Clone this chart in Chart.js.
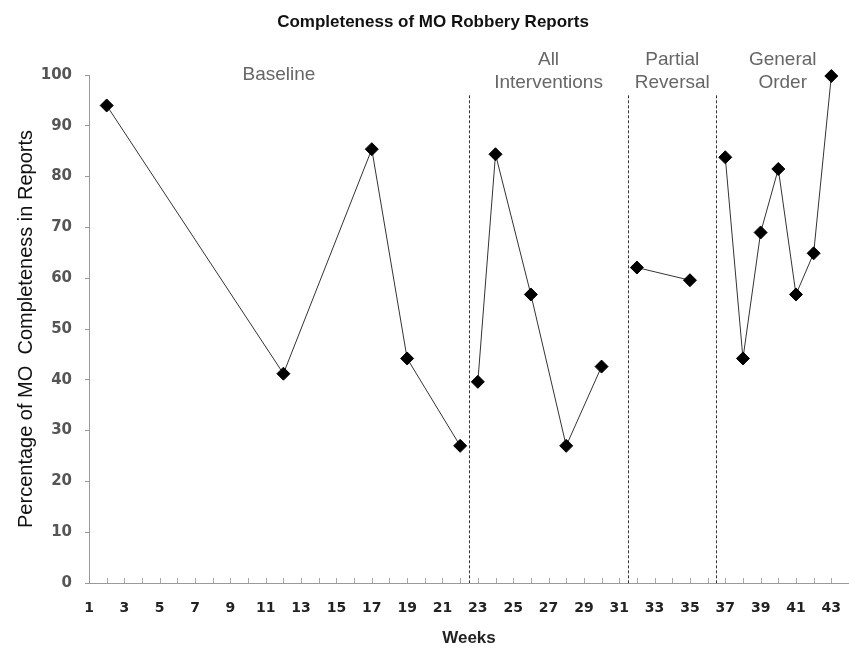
<!DOCTYPE html>
<html>
<head>
<meta charset="utf-8">
<script src="https://cdn.jsdelivr.net/npm/chart.js@4/dist/chart.umd.min.js"></script>
<style>
html,body{margin:0;padding:0;background:#fff;}
#wrap{width:849px;height:656px;position:relative;}
</style>
</head>
<body>
<div id="wrap"><canvas id="c" width="849" height="656"></canvas></div>
<script>
// ---- data ----
const chartTitle = "Completeness of MO Robbery Reports";
const xTitle = "Weeks";
const yTitle = "Percentage of MO  Completeness in Reports";
const weeks  = [2, 12, 17, 19, 22, 23, 24, 26, 28, 30, 32, 35, 37, 38, 39, 40, 41, 42, 43];
const values = [94, 41.2, 85.4, 44.2, 27, 39.6, 84.4, 56.8, 27, 42.6, 62.1, 59.6, 83.8, 44.2, 69, 81.5, 56.8, 64.9, 99.8];
const phaseOf = [0, 0, 0, 0, 0, 1, 1, 1, 1, 1, 2, 2, 3, 3, 3, 3, 3, 3, 3];
const phaseNames = [["Baseline"], ["All", "Interventions"], ["Partial", "Reversal"], ["General", "Order"]];
const phaseChanges = [22.5, 31.5, 36.5];
const xTickLabels = [1,3,5,7,9,11,13,15,17,19,21,23,25,27,29,31,33,35,37,39,41,43];
const yTickLabels = [0,10,20,30,40,50,60,70,80,90,100];

const X_MIN = 1, X_MAX = 44;

const datasets = phaseNames.map((_, p) => ({
  data: weeks.map((w, i) => phaseOf[i] === p ? {x: w, y: values[i]} : null).filter(d => d),
  borderColor: '#333',
  borderWidth: 1,
  pointStyle: 'rectRot',
  pointRadius: 6.5,
  pointHoverRadius: 6.5,
  pointBackgroundColor: '#000',
  pointBorderColor: '#000',
  pointBorderWidth: 1,
  tension: 0,
  fill: false,
  clip: false
}));

const decor = {
  id: 'decor',
  beforeDatasetsDraw(chart) {
    const ctx = chart.ctx, xs = chart.scales.x, ys = chart.scales.y, ca = chart.chartArea;
    ctx.save();
    // inside ticks on x axis
    ctx.strokeStyle = '#aaa';
    ctx.lineWidth = 1;
    for (let w = X_MIN + 1; w <= X_MAX - 1; w++) {
      const px = Math.round(xs.getPixelForValue(w)) + 0.5;
      ctx.beginPath();
      ctx.moveTo(px, ca.bottom);
      ctx.lineTo(px, ca.bottom - 5);
      ctx.stroke();
    }
    // phase change lines
    ctx.strokeStyle = '#333';
    ctx.setLineDash([3, 2]);
    phaseChanges.forEach(w => {
      const px = Math.round(xs.getPixelForValue(w)) + 0.5;
      ctx.beginPath();
      ctx.moveTo(px, ys.getPixelForValue(96));
      ctx.lineTo(px, ca.bottom);
      ctx.stroke();
    });
    ctx.setLineDash([]);
    // phase labels
    const bounds = [X_MIN, ...phaseChanges, X_MAX];
    ctx.fillStyle = '#666';
    ctx.font = '19px "Liberation Sans", Arial, sans-serif';
    ctx.textAlign = 'center';
    ctx.textBaseline = 'middle';
    phaseNames.forEach((lines, p) => {
      const cx = xs.getPixelForValue((bounds[p] + bounds[p + 1]) / 2);
      if (lines.length === 1) {
        ctx.fillText(lines[0], cx, 75);
      } else {
        ctx.fillText(lines[0], cx, 60);
        ctx.fillText(lines[1], cx, 83);
      }
    });
    // title
    ctx.fillStyle = '#111';
    ctx.font = 'bold 17px "Liberation Sans", Arial, sans-serif';
    ctx.fillText(chartTitle, 433, 22);
    ctx.restore();
  }
};

new Chart(document.getElementById('c'), {
  type: 'line',
  data: { datasets },
  plugins: [decor],
  options: {
    responsive: false,
    animation: false,
    events: [],
    layout: { autoPadding: false, padding: { top: 75, right: 0, bottom: 0, left: 0 } },
    plugins: { legend: { display: false }, title: { display: false }, tooltip: { enabled: false } },
    scales: {
      x: {
        type: 'linear',
        min: X_MIN, max: X_MAX,
        afterFit(s) { s.height = 73; s.paddingLeft = 0; s.paddingRight = 0; },
        afterBuildTicks(s) { s.ticks = xTickLabels.map(v => ({ value: v })); },
        grid: { display: true, drawOnChartArea: false, drawTicks: false },
        border: { display: true, color: '#999', width: 1 },
        ticks: {
          autoSkip: false, maxRotation: 0, padding: 17,
          color: '#222',
          font: { family: '"DejaVu Sans", sans-serif', size: 14, weight: 'bold' },
          callback: v => String(v)
        },
        title: {
          display: true, text: xTitle, color: '#222',
          font: { family: '"Liberation Sans", Arial, sans-serif', size: 17, weight: 'bold' },
          padding: { top: 0, bottom: 7 }
        }
      },
      y: {
        min: 0, max: 100,
        afterFit(s) { s.width = 89; s.paddingTop = 0; s.paddingBottom = 0; },
        afterBuildTicks(s) { s.ticks = yTickLabels.map(v => ({ value: v })); },
        grid: { display: true, drawOnChartArea: false, drawTicks: true, tickLength: 4, color: '#999' },
        border: { display: true, color: '#999', width: 1 },
        ticks: {
          padding: 13, color: '#555',
          font: { family: '"DejaVu Sans", sans-serif', size: 15, weight: 'bold' },
          callback: v => String(v)
        },
        title: {
          display: true, text: yTitle, color: '#111',
          font: { family: '"Liberation Sans", Arial, sans-serif', size: 20 },
          padding: { top: 14, bottom: 0 }
        }
      }
    }
  }
});
</script>
</body>
</html>
